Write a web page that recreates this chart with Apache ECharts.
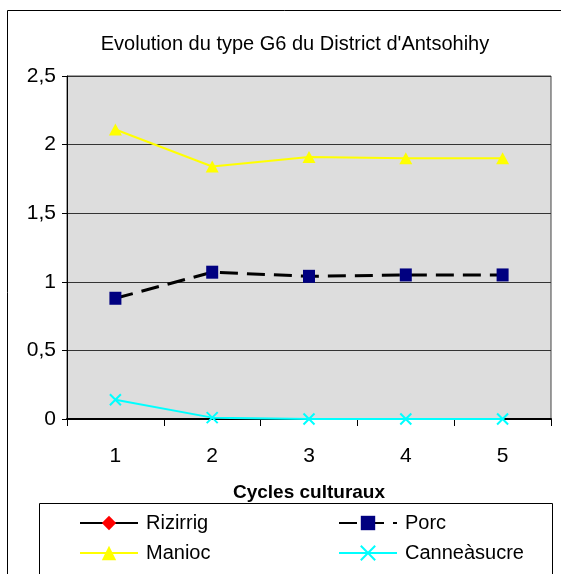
<!DOCTYPE html>
<html>
<head>
<meta charset="utf-8">
<script src="https://cdn.jsdelivr.net/npm/echarts@6/dist/echarts.min.js"></script>
<style>
  html, body { margin: 0; padding: 0; background: #fff; }
  #chart { width: 561px; height: 574px; }
</style>
</head>
<body>
<div id="chart"></div>
<script>
// Cycles culturaux and the four activity series
const cycles = ['1', '2', '3', '4', '5'];
const rizirrig = [];
const porc = [0.88, 1.07, 1.04, 1.05, 1.05];
const manioc = [2.11, 1.84, 1.91, 1.90, 1.90];
const canne = [0.14, 0.01, 0, 0, 0];

const FONT = '"Liberation Sans", Arial, sans-serif';
const crossPath = 'path://M0,0L10,10M10,0L0,10';

const chart = echarts.init(document.getElementById('chart'), null, { renderer: 'canvas' });

function legendAt(name, left, top) {
  return {
    data: [name],
    left: left,
    top: top,
    itemWidth: 58,
    itemHeight: 18,
    padding: 0,
    selectedMode: false,
    textStyle: { fontFamily: FONT, fontSize: 20, color: '#000', padding: [0, 0, 0, 3] }
  };
}

chart.setOption({
  animation: false,
  backgroundColor: '#fff',
  title: {
    text: 'Evolution du type G6 du District d\'Antsohihy',
    left: 290,
    textAlign: 'center',
    top: 29,
    textStyle: { fontFamily: FONT, fontSize: 20, fontWeight: 'normal', color: '#000' }
  },
  grid: {
    left: 67, right: 10, top: 76, bottom: 155,
    show: true,
    backgroundColor: '#dddddd',
    borderColor: '#444',
    borderWidth: 1
  },
  xAxis: {
    type: 'category',
    data: cycles,
    boundaryGap: true,
    name: 'Cycles culturaux',
    nameLocation: 'middle',
    nameGap: 64,
    nameTextStyle: { fontFamily: FONT, fontSize: 19, fontWeight: 'bold', color: '#000' },
    axisLine: { lineStyle: { color: '#000', width: 2 } },
    axisTick: { show: true, length: 7, alignWithLabel: false, lineStyle: { color: '#000' } },
    axisLabel: { fontFamily: FONT, fontSize: 21, color: '#000', margin: 27 },
    splitLine: { show: false }
  },
  yAxis: {
    type: 'value',
    min: 0, max: 2.5, interval: 0.5,
    axisLine: { show: true, lineStyle: { color: '#000', width: 1 } },
    axisTick: { show: true, length: 5, lineStyle: { color: '#000' } },
    axisLabel: {
      fontFamily: FONT, fontSize: 21, color: '#000', margin: 11,
      formatter: v => String(v).replace('.', ',')
    },
    splitLine: { show: true, lineStyle: { color: '#333', width: 1 } }
  },
  legend: [
    legendAt('Rizirrig', 79, 513),
    legendAt('Porc', 338, 513),
    legendAt('Manioc', 79, 543),
    legendAt('Canneàsucre', 338, 543)
  ],
  graphic: [
    {
      type: 'rect', silent: true, z: -1,
      shape: { x: 7.5, y: 10.5, width: 560, height: 580 },
      style: { fill: 'none', stroke: '#000', lineWidth: 1 }
    },
    {
      type: 'rect', silent: true, z: -1,
      shape: { x: 39.5, y: 503.5, width: 513, height: 100 },
      style: { fill: 'none', stroke: '#000', lineWidth: 1 }
    }
  ],
  series: [
    {
      name: 'Rizirrig', type: 'line', data: rizirrig,
      symbol: 'diamond', symbolSize: [10, 14],
      lineStyle: { color: '#000', width: 3 },
      itemStyle: { color: '#ff0000' }
    },
    {
      name: 'Porc', type: 'line', data: porc,
      symbol: 'rect', symbolSize: [12, 13],
      lineStyle: { color: '#000', width: 3, type: [18, 9] },
      itemStyle: { color: '#000080' }
    },
    {
      name: 'Manioc', type: 'line', data: manioc,
      symbol: 'triangle', symbolSize: [13, 12],
      lineStyle: { color: '#ffff00', width: 2 },
      itemStyle: { color: '#ffff00' }
    },
    {
      name: 'Canneàsucre', type: 'line', data: canne,
      symbol: crossPath, symbolSize: 11,
      lineStyle: { color: '#00ffff', width: 2 },
      itemStyle: { color: '#00ffff', borderColor: '#00ffff', borderWidth: 2 }
    }
  ]
});
</script>
</body>
</html>
